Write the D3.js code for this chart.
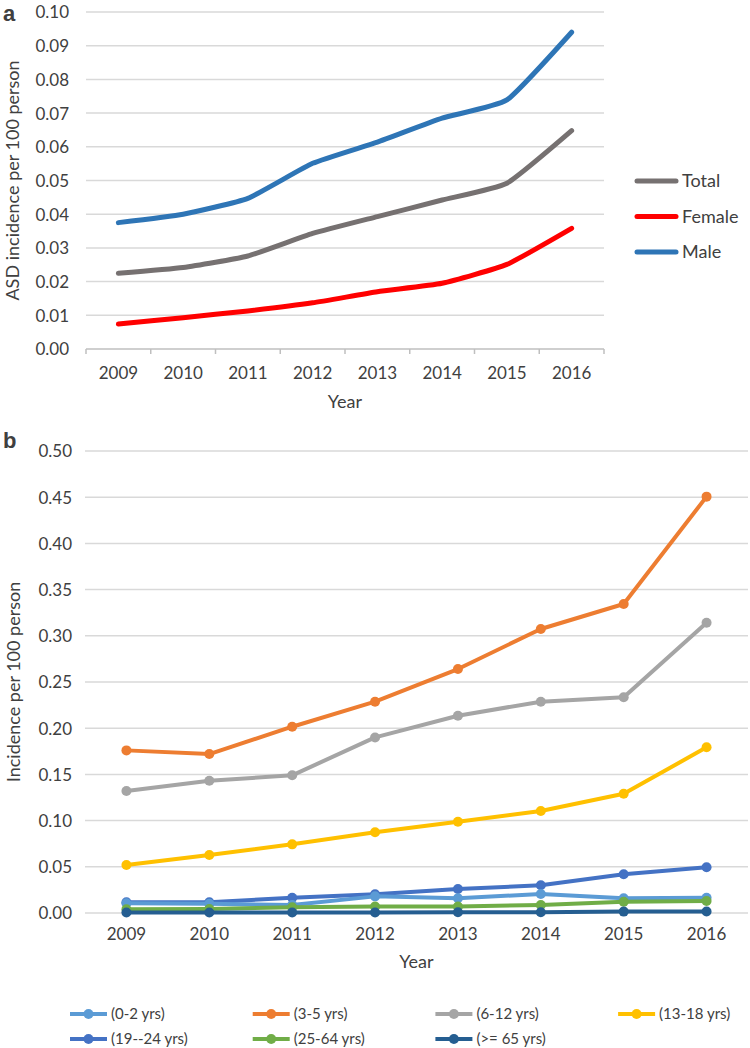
<!DOCTYPE html>
<html><head><meta charset="utf-8">
<script src="https://cdn.jsdelivr.net/npm/d3@7"></script>
<style>
body{margin:0;background:#fff;}
text{font-family:Lato,"Open Sans",sans-serif;fill:#404040;}
</style></head>
<body><svg id="chart" width="750" height="1048"></svg>
<script>
// ---------- DATA ----------
const years = ["2009","2010","2011","2012","2013","2014","2015","2016"];
// Panel a
const totalA  = [0.0225,0.0242,0.0276,0.0343,0.0393,0.0442,0.0492,0.0648];
const femaleA = [0.0074,0.0093,0.0113,0.0137,0.0170,0.0195,0.0251,0.0358];
const maleA   = [0.0375,0.0400,0.0447,0.0551,0.0614,0.0685,0.0739,0.0940];
const seriesNamesA = ["Total","Female","Male"];
const yTicksA = [0,0.01,0.02,0.03,0.04,0.05,0.06,0.07,0.08,0.09,0.10];
// Panel b
const age0_2   = [0.0105,0.0100,0.0087,0.0180,0.0159,0.0206,0.0159,0.0166];
const age3_5   = [0.176,0.172,0.2016,0.2287,0.264,0.3074,0.3344,0.4506];
const age6_12  = [0.132,0.1432,0.149,0.190,0.2135,0.2287,0.2334,0.3142];
const age13_18 = [0.052,0.0628,0.0743,0.0873,0.0988,0.1104,0.129,0.1793];
const age19_24 = [0.0116,0.0116,0.0166,0.0202,0.026,0.030,0.0419,0.0495];
const age25_64 = [0.0040,0.0042,0.0062,0.0069,0.0069,0.0087,0.0122,0.0130];
const age65    = [0.0005,0.0005,0.0005,0.0006,0.0008,0.0009,0.0015,0.0017];
const seriesNamesB = ["(0-2 yrs)","(3-5 yrs)","(6-12 yrs)","(13-18 yrs)","(19--24 yrs)","(25-64 yrs)","(>= 65 yrs)"];
const yTicksB = [0,0.05,0.10,0.15,0.20,0.25,0.30,0.35,0.40,0.45,0.50];

const colorsA = ["#767171","#FF0000","#2E75B6"];
const colorsB = ["#5B9BD5","#ED7D31","#A5A5A5","#FFC000","#4472C4","#70AD47","#255E91"];

const svg = d3.select("#chart");
const gridColor = "#d9d9d9";

// ---------- PANEL A ----------
(function(){
  const x = d3.scaleBand().domain(years).range([86,604]);
  const y = d3.scaleLinear().domain([0,0.10]).range([349,12]);
  const g = svg.append("g");
  g.selectAll("line.grid").data(yTicksA.slice(1)).join("line")
    .attr("x1",x.range()[0]).attr("x2",x.range()[1])
    .attr("y1",d=>y(d)).attr("y2",d=>y(d))
    .attr("stroke",gridColor).attr("stroke-width",1.5);
  const ya = d3.axisLeft(y).tickValues(yTicksA).tickFormat(d3.format(".2f")).tickSize(0).tickPadding(17);
  const yg = g.append("g").attr("transform",`translate(${x.range()[0]},0)`).call(ya);
  yg.select(".domain").remove();
  yg.selectAll("text").attr("font-size",17).attr("fill","#404040").attr("dy","0.35em");
  g.append("line").attr("x1",x.range()[0]).attr("x2",x.range()[1])
    .attr("y1",y(0)).attr("y2",y(0)).attr("stroke","#bfbfbf").attr("stroke-width",1.5);
  const bounds = years.map(d=>x(d)).concat([x.range()[1]]);
  g.selectAll("line.tk").data(bounds).join("line")
    .attr("x1",d=>d).attr("x2",d=>d).attr("y1",y(0)).attr("y2",y(0)+5)
    .attr("stroke","#bfbfbf").attr("stroke-width",1.5);
  const xa = d3.axisBottom(x).tickSize(0).tickPadding(18);
  const xg = g.append("g").attr("transform",`translate(0,${y(0)})`).call(xa);
  xg.select(".domain").remove();
  xg.selectAll("text").attr("font-size",17).attr("fill","#404040");
  const line = d3.line().x((d,i)=>x(years[i])+x.bandwidth()/2).y(d=>y(d)).curve(d3.curveCardinal.tension(0.55));
  const dataA = [totalA,femaleA,maleA];
  g.selectAll("path.s").data(dataA).join("path")
    .attr("d",line).attr("fill","none")
    .attr("stroke",(d,i)=>colorsA[i]).attr("stroke-width",5).attr("stroke-linecap","round").attr("stroke-linejoin","round");
  g.append("text").attr("transform",`translate(19,${(y(0)+y(0.1))/2}) rotate(-90)`)
    .attr("text-anchor","middle").attr("font-size",18).text("ASD incidence per 100 person");
  g.append("text").attr("x",(x.range()[0]+x.range()[1])/2).attr("y",408).attr("text-anchor","middle")
    .attr("font-size",18).text("Year");
  g.append("text").attr("x",3).attr("y",21).attr("font-size",22).attr("font-weight","bold")
    .style("font-family","Arial, 'Liberation Sans', sans-serif").attr("fill","#000").text("a");
  const lg = g.selectAll("g.lg").data(seriesNamesA).join("g")
    .attr("transform",(d,i)=>`translate(635,${181+i*35.5})`);
  lg.append("line").attr("x1",2).attr("x2",41).attr("stroke",(d,i)=>colorsA[i])
    .attr("stroke-width",5).attr("stroke-linecap","round");
  lg.append("text").attr("x",47).attr("dy","0.35em").attr("font-size",18).text(d=>d);
})();

// ---------- PANEL B ----------
(function(){
  const x = d3.scaleBand().domain(years).range([85,748]);
  const y = d3.scaleLinear().domain([0,0.50]).range([913,451]);
  const g = svg.append("g");
  g.selectAll("line.grid").data(yTicksB).join("line")
    .attr("x1",x.range()[0]).attr("x2",x.range()[1])
    .attr("y1",d=>y(d)).attr("y2",d=>y(d))
    .attr("stroke",gridColor).attr("stroke-width",1.5);
  const ya = d3.axisLeft(y).tickValues(yTicksB).tickFormat(d3.format(".2f")).tickSize(0).tickPadding(13);
  const yg = g.append("g").attr("transform",`translate(${x.range()[0]},0)`).call(ya);
  yg.select(".domain").remove();
  yg.selectAll("text").attr("font-size",17).attr("fill","#404040").attr("dy","0.35em");
  const xa = d3.axisBottom(x).tickSize(0).tickPadding(15);
  const xg = g.append("g").attr("transform",`translate(0,${y(0)})`).call(xa);
  xg.select(".domain").remove();
  xg.selectAll("text").attr("font-size",17).attr("fill","#404040");
  const dataB = [age0_2,age3_5,age6_12,age13_18,age19_24,age25_64,age65];
  const line = d3.line().x((d,i)=>x(years[i])+x.bandwidth()/2).y(d=>y(d));
  const order = [1,2,3,4,0,5,6];
  order.forEach(k=>{
    const s = g.append("g");
    s.append("path").datum(dataB[k]).attr("d",line).attr("fill","none")
      .attr("stroke",colorsB[k]).attr("stroke-width",4).attr("stroke-linejoin","round");
    s.selectAll("circle").data(dataB[k]).join("circle")
      .attr("cx",(d,i)=>x(years[i])+x.bandwidth()/2).attr("cy",d=>y(d)).attr("r",5)
      .attr("fill",colorsB[k]);
  });
  g.append("text").attr("transform",`translate(20,${(y(0)+y(0.5))/2}) rotate(-90)`)
    .attr("text-anchor","middle").attr("font-size",18).text("Incidence per 100 person");
  g.append("text").attr("x",(x.range()[0]+x.range()[1])/2).attr("y",968).attr("text-anchor","middle")
    .attr("font-size",18).text("Year");
  g.append("text").attr("x",3).attr("y",448).attr("font-size",22).attr("font-weight","bold")
    .style("font-family","Arial, 'Liberation Sans', sans-serif").attr("fill","#000").text("b");
  const lg = g.selectAll("g.lg").data(seriesNamesB).join("g")
    .attr("transform",(d,i)=>`translate(${70+(i%4)*182.7},${1014+Math.floor(i/4)*25})`);
  lg.append("line").attr("x1",0).attr("x2",37).attr("stroke",(d,i)=>colorsB[i]).attr("stroke-width",4);
  lg.append("circle").attr("cx",18.5).attr("r",5).attr("fill",(d,i)=>colorsB[i]);
  lg.append("text").attr("x",41).attr("dy","0.35em").attr("font-size",15).text(d=>d);
})();
</script></body></html>
